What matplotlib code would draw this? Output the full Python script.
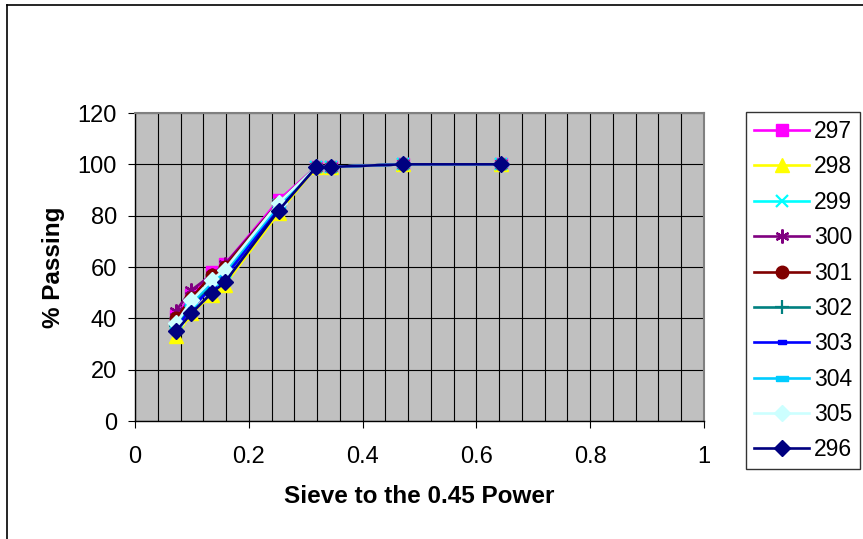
import numpy as np
import matplotlib
matplotlib.use("Agg")
import matplotlib.pyplot as plt
from matplotlib.ticker import MultipleLocator
from matplotlib.lines import Line2D

plt.rcParams['font.family'] = ['Liberation Sans', 'DejaVu Sans']

# sieve openings (inches): 3/8", #4, #8, #10, #16, #40, #50, #100, #200
sieve_in = np.array([0.375, 0.187, 0.0937, 0.0787, 0.0469, 0.0165, 0.0117, 0.0059, 0.0029])
x = sieve_in ** 0.45

labels = ['297', '298', '299', '300', '301', '302', '303', '304', '305', '296']
passing = {
    '297': [100, 100, 99, 99, 86, 61, 58, 49, 41],
    '298': [100, 100, 99, 99, 81, 53, 49, 42, 33],
    '299': [100, 100, 99, 99, 84, 58, 55, 46, 38],
    '300': [100, 100, 99, 99, 85, 61, 57, 51, 43],
    '301': [100, 100, 99, 99, 85, 60, 57, 48, 40],
    '302': [100, 100, 99, 99, 83, 57, 53, 45, 37],
    '303': [100, 100, 99, 99, 83, 56, 52, 44, 36],
    '304': [100, 100, 99, 99, 84, 58, 54, 46, 38],
    '305': [100, 100, 99, 99, 85, 59, 55, 47, 38],
    '296': [100, 100, 99, 99, 82, 54, 50, 42, 35],
}

bar = [(-1, -0.45), (1, -0.45), (1, 0.45), (-1, 0.45), (-1, -0.45)]
styles = {
    '297': dict(color='#FF00FF', marker='s', ms=8.5),
    '298': dict(color='#FFFF00', marker='^', ms=9.5),
    '299': dict(color='#00FFFF', marker='x', ms=9, mew=1.6),
    '300': dict(color='#800080', marker=(6, 2, 0), ms=10, mew=1.6),
    '301': dict(color='#800000', marker='o', ms=9),
    '302': dict(color='#008080', marker='+', ms=10, mew=1.6),
    '303': dict(color='#0000FF', marker=bar, ms=6),
    '304': dict(color='#00CCFF', marker=bar, ms=8),
    '305': dict(color='#CCFFFF', marker='D', ms=8.5),
    '296': dict(color='#000080', marker='D', ms=8.5),
}

fig = plt.figure(figsize=(8.63, 5.39), dpi=100)
W, H = 863, 539
ax = fig.add_axes([135 / W, 1 - 421 / H, (704 - 135) / W, (421 - 113) / H])
ax.set_facecolor('#C0C0C0')

for lab in labels:
    st = styles[lab]
    ax.plot(x, passing[lab], color=st['color'], lw=1.9, marker=st['marker'],
            ms=st['ms'], mew=st.get('mew', 1), mfc=st['color'], mec=st['color'],
            label=lab)

ax.set_xlim(0, 1)
ax.set_ylim(0, 120)
ax.xaxis.set_minor_locator(MultipleLocator(0.04))
ax.yaxis.set_major_locator(MultipleLocator(20))
ax.set_xticks(np.arange(0, 1.01, 0.2))
ax.set_xticklabels(['0', '0.2', '0.4', '0.6', '0.8', '1'])
ax.grid(True, which='both', axis='x', color='black', lw=0.8)
ax.grid(True, which='major', axis='y', color='black', lw=0.8)
ax.set_axisbelow(True)
ax.tick_params(axis='both', which='major', direction='out', length=5, width=0.8,
               labelsize=17, colors='black')
ax.tick_params(axis='x', which='major', pad=13)
ax.tick_params(axis='y', which='major', pad=8)
ax.tick_params(axis='x', which='minor', length=0)
for s in ['top', 'right']:
    ax.spines[s].set_color('#808080')
    ax.spines[s].set_linewidth(1.5)
for s in ['left', 'bottom']:
    ax.spines[s].set_color('black')
    ax.spines[s].set_linewidth(1)

ax.set_xlabel('Sieve to the 0.45 Power', fontsize=17.5, fontweight='bold', labelpad=12)
ax.set_ylabel('% Passing', fontsize=17.5, fontweight='bold', labelpad=9)

leg = fig.legend(loc='upper left', bbox_to_anchor=(746 / W, 1 - 112 / H),
                 fontsize=16.5, frameon=True, fancybox=False, edgecolor='black',
                 handlelength=2.4, labelspacing=0.54, borderpad=0.35,
                 handletextpad=0.2, borderaxespad=0)
leg.get_frame().set_linewidth(1)

# chart area border (left and top edges visible)
fig.add_artist(Line2D([7 / W, 7 / W], [0, 1 - 5 / H], color='black', lw=1.2,
                      transform=fig.transFigure))
fig.add_artist(Line2D([7 / W, 1], [1 - 5 / H, 1 - 5 / H], color='black', lw=1.2,
                      transform=fig.transFigure))

fig.savefig('out.png', dpi=100)
